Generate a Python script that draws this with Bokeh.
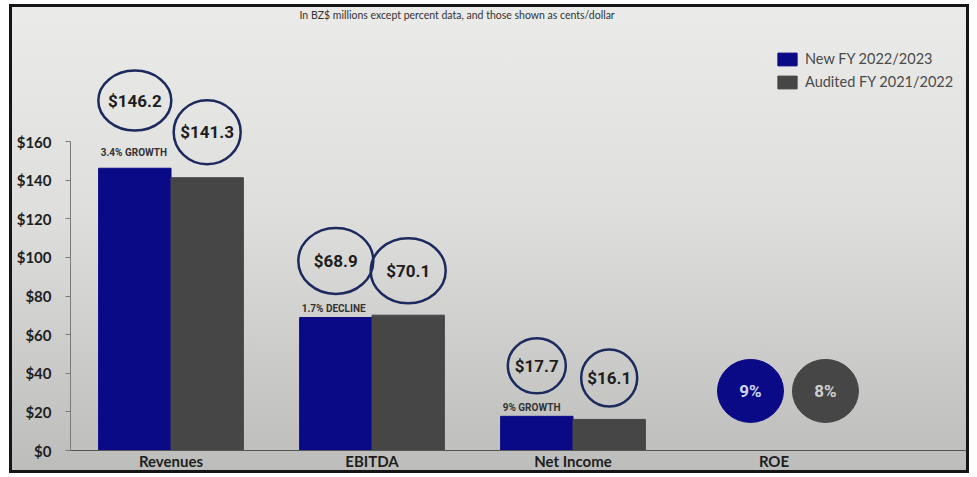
from bokeh.plotting import figure
from bokeh.models import (ColumnDataSource, FixedTicker, Legend, LegendItem, Title,
                          Range1d, PrintfTickFormatter)
from bokeh.embed import file_html
from bokeh.resources import INLINE
from bokeh.core.properties import value

# ---------------- data ----------------
categories = ["Revenues", "EBITDA", "Net Income"]
new_fy = [146.2, 68.9, 17.7]          # New FY 2022/2023, BZ$ millions
audited_fy = [141.3, 70.1, 16.1]      # Audited FY 2021/2022, BZ$ millions
change_labels = ["3.4% GROWTH", "1.7% DECLINE", "9% GROWTH"]
roe_label = "ROE"
roe_new = 9                           # percent
roe_audited = 8                       # percent
y_ticks = [0, 20, 40, 60, 80, 100, 120, 140, 160]
series_names = ["New FY 2022/2023", "Audited FY 2021/2022"]
subtitle = "In BZ$ millions except percent data, and those shown as cents/dollar"

# ---------------- style ----------------
NEW_COLOR = "#0a0a87"
OLD_COLOR = "#464646"
RING_COLOR = "#1c2a5e"
TEXT_DARK = "#1e1e1e"
W, H = 960, 469
BORDER_L, BORDER_R = 61, 3
FRAME_H_EST = 424
PX = 1.9125                       # pixels per BZ$ million
Y_END = FRAME_H_EST / PX
CAT_PX = 201.0                    # pixels per category slot
X_END = (W - BORDER_L - BORDER_R) / CAT_PX
BAR_W = 0.36
FONT_LBL = "Roboto"

ring_off_new = [67, 56, 50]       # px above bar top
ring_off_old = [45, 44, 41]
ring_w_new = [73, 75, 58]
ring_h_new = [60, 66, 55]
ring_w_old = [67, 75, 56]
ring_h_old = [64, 65, 57]
change_off = [10, 3, 3]

centers = [i + 0.5 for i in range(len(categories))]
roe_center = len(categories) + 0.5

src = ColumnDataSource(dict(
    cat=categories,
    new=new_fy,
    old=audited_fy,
    x_new=[c - BAR_W / 2 for c in centers],
    x_old=[c + BAR_W / 2 for c in centers],
    x_left=[c - BAR_W + 0.01 for c in centers],
    lab_new=[f"${v:.1f}" for v in new_fy],
    lab_old=[f"${v:.1f}" for v in audited_fy],
    y_ring_new=[v + o / PX for v, o in zip(new_fy, ring_off_new)],
    y_ring_old=[v + o / PX for v, o in zip(audited_fy, ring_off_old)],
    w_new=ring_w_new, h_new=ring_h_new, w_old=ring_w_old, h_old=ring_h_old,
    change=change_labels,
    y_change=[v + o / PX for v, o in zip(new_fy, change_off)],
))

p = figure(width=W, height=H, output_backend="svg", toolbar_location=None,
           x_range=Range1d(0, X_END), y_range=Range1d(0, Y_END),
           min_border_left=BORDER_L, min_border_right=BORDER_R,
           min_border_top=3, min_border_bottom=23,
           styles={"background": "linear-gradient(180deg, #ebebe9 0%, #dededc 45%, #bcbdbb 100%)",
                   "outline": "3px solid #151515",
                   "outline-offset": "-3px",
                   "margin": "4px 0px 0px 9px"})
p.border_fill_alpha = 0
p.background_fill_alpha = 0
p.outline_line_color = None
p.xgrid.visible = False
p.ygrid.visible = False

p.add_layout(Title(text=subtitle, align="left", offset=229, text_font="Lato",
                   text_font_style="normal", text_font_size="10.5px",
                   text_color="#333333", standoff=4), "above")

# bars
r_new = p.vbar(x="x_new", top="new", width=BAR_W, bottom=0, source=src,
               fill_color=NEW_COLOR, line_color=NEW_COLOR)
r_old = p.vbar(x="x_old", top="old", width=BAR_W, bottom=0, source=src,
               fill_color=OLD_COLOR, line_color=OLD_COLOR)

# rings with values
p.ellipse(x="x_new", y="y_ring_new", width="w_new", height="h_new",
          width_units="screen", height_units="screen", source=src,
          fill_color=None, line_color=RING_COLOR, line_width=2.5)
p.ellipse(x="x_old", y="y_ring_old", width="w_old", height="h_old",
          width_units="screen", height_units="screen", source=src,
          fill_color=None, line_color=RING_COLOR, line_width=2.5)
p.text(x="x_new", y="y_ring_new", text="lab_new", source=src,
       text_font=value(FONT_LBL), text_font_style="bold", text_font_size="17px",
       text_align="center", text_baseline="middle", text_color=TEXT_DARK)
p.text(x="x_old", y="y_ring_old", text="lab_old", source=src,
       text_font=value(FONT_LBL), text_font_style="bold", text_font_size="17px",
       text_align="center", text_baseline="middle", text_color=TEXT_DARK)
p.text(x="x_left", y="y_change", text="change", source=src,
       text_font=value(FONT_LBL), text_font_style="bold", text_font_size="10px",
       text_align="left", text_baseline="bottom", text_color="#333333")

# ROE discs
roe_src = ColumnDataSource(dict(
    x=[roe_center - 0.117, roe_center + 0.256],
    y=[59 / PX, 59 / PX],
    txt=[f"{roe_new}%", f"{roe_audited}%"],
    fill=[NEW_COLOR, OLD_COLOR],
    tcol=["#c9d6f2", "#cfcfcf"],
))
p.ellipse(x="x", y="y", width=66, height=63, width_units="screen",
          height_units="screen", source=roe_src, fill_color="fill",
          line_color="fill")
p.text(x="x", y="y", text="txt", source=roe_src, text_font=value(FONT_LBL),
       text_font_style="bold", text_font_size="17px", text_align="center",
       text_baseline="middle", text_color="tcol")

# axes
p.yaxis.ticker = FixedTicker(ticks=y_ticks)
p.yaxis.formatter = PrintfTickFormatter(format="$%d")
p.yaxis.bounds = (0, y_ticks[-1])
p.yaxis.minor_tick_line_color = None
p.yaxis.major_tick_in = 0
p.yaxis.major_tick_out = 5
p.yaxis.major_label_standoff = 14
p.yaxis.axis_line_color = "#7a7a7a"
p.yaxis.major_tick_line_color = "#7a7a7a"
p.yaxis.major_label_text_font = "Lato"
p.yaxis.major_label_text_font_style = "bold"
p.yaxis.major_label_text_font_size = "15px"
p.yaxis.major_label_text_color = TEXT_DARK

all_cats = categories + [roe_label]
tick_pos = [i + 0.5 for i in range(len(all_cats))]
p.xaxis.ticker = FixedTicker(ticks=tick_pos)
p.xaxis.major_label_overrides = {t: c for t, c in zip(tick_pos, all_cats)}
p.xaxis.minor_tick_line_color = None
p.xaxis.major_tick_line_color = None
p.xaxis.major_tick_in = 0
p.xaxis.major_tick_out = 0
p.xaxis.major_label_standoff = 1
p.xaxis.axis_line_color = "#555555"
p.xaxis.major_label_text_font = "Lato"
p.xaxis.major_label_text_font_style = "bold"
p.xaxis.major_label_text_font_size = "15px"
p.xaxis.major_label_text_color = TEXT_DARK

legend = Legend(items=[LegendItem(label=series_names[0], renderers=[r_new]),
                       LegendItem(label=series_names[1], renderers=[r_old])],
                location=(705, 360), glyph_width=24, glyph_height=16,
                label_height=16, label_standoff=6, spacing=6, padding=0, margin=0,
                border_line_alpha=0, background_fill_alpha=0,
                label_text_font="Lato", label_text_font_size="14.5px",
                label_text_color="#4a4a4a")
p.add_layout(legend)

open("out.html", "w").write(file_html(p, INLINE))
